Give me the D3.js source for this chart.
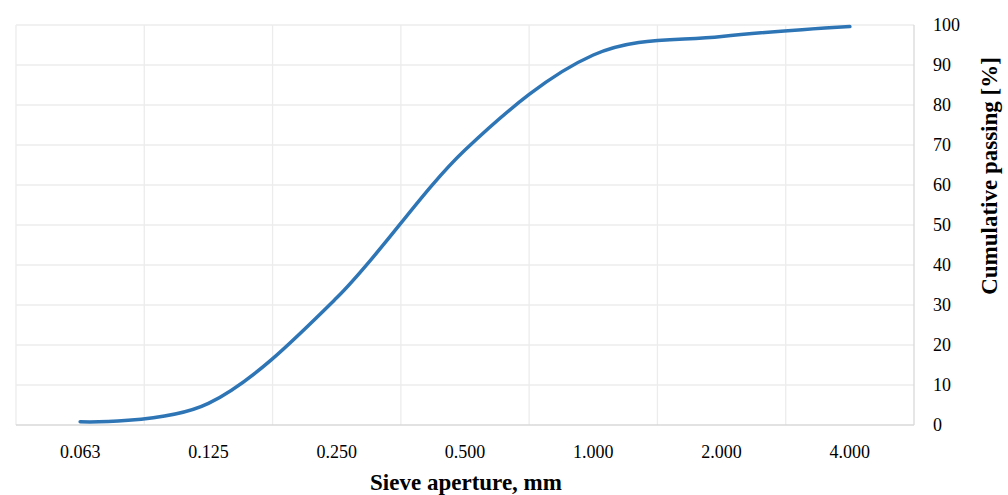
<!DOCTYPE html>
<html>
<head>
<meta charset="utf-8">
<script src="https://cdn.jsdelivr.net/npm/d3@7"></script>
<style>
  html, body { margin: 0; padding: 0; background: #fff; }
  svg { display: block; }
  text { font-family: "Liberation Serif", "DejaVu Serif", serif; fill: #000; }
</style>
</head>
<body>
<svg id="chart" width="1008" height="495"></svg>
<script>
const categories = ["0.063", "0.125", "0.250", "0.500", "1.000", "2.000", "4.000"];
const passing = [0.8, 5.4, 31.8, 68.75, 92.5, 97.1, 99.6];
const yTicks = [0, 10, 20, 30, 40, 50, 60, 70, 80, 90, 100];

(function () {
const svg = d3.select("#chart");
const pLeft = 16, pRight = 914, pTop = 25, pBottom = 425;

const x = d3.scaleBand().domain(categories).range([pLeft, pRight]).padding(0);
const y = d3.scaleLinear().domain([0, 100]).range([pBottom, pTop]);

// horizontal gridlines
svg.append("g").selectAll("line").data(yTicks.filter(d => d > 0)).join("line")
  .attr("x1", pLeft).attr("x2", pRight)
  .attr("y1", d => y(d)).attr("y2", d => y(d))
  .attr("stroke", "#ececec").attr("stroke-width", 1.3);

// vertical gridlines at category boundaries
const bounds = categories.map(c => x(c));
svg.append("g").selectAll("line").data(bounds).join("line")
  .attr("x1", d => d).attr("x2", d => d)
  .attr("y1", pTop).attr("y2", pBottom)
  .attr("stroke", "#ececec").attr("stroke-width", 1.3);

// right axis line
svg.append("line").attr("x1", pRight).attr("x2", pRight).attr("y1", pTop).attr("y2", pBottom)
  .attr("stroke", "#d9d9d9").attr("stroke-width", 1.3);
// bottom axis line
svg.append("line").attr("x1", pLeft).attr("x2", pRight).attr("y1", pBottom).attr("y2", pBottom)
  .attr("stroke", "#d9d9d9").attr("stroke-width", 1.3);

// x tick labels
svg.append("g").selectAll("text").data(categories).join("text")
  .attr("x", d => x(d) + x.bandwidth() / 2)
  .attr("y", 458)
  .attr("text-anchor", "middle")
  .attr("font-size", 18)
  .text(d => d);

// y tick labels
svg.append("g").selectAll("text").data(yTicks).join("text")
  .attr("x", 933)
  .attr("y", d => y(d) + 6)
  .attr("text-anchor", "start")
  .attr("font-size", 18)
  .text(d => d);

// axis titles
svg.append("text")
  .attr("x", 466).attr("y", 490)
  .attr("text-anchor", "middle")
  .attr("font-size", 23).attr("font-weight", "bold")
  .text("Sieve aperture, mm");

svg.append("text")
  .attr("transform", "translate(997,176) rotate(-90)")
  .attr("text-anchor", "middle")
  .attr("font-size", 23).attr("font-weight", "bold")
  .text("Cumulative passing [%]");

// line
const line = d3.line()
  .x((d, i) => x(categories[i]) + x.bandwidth() / 2)
  .y(d => y(d))
  .curve(d3.curveCardinal.tension(0));

svg.append("path").datum(passing)
  .attr("d", line)
  .attr("fill", "none")
  .attr("stroke", "#2E75B6")
  .attr("stroke-width", 3.5)
  .attr("stroke-linecap", "round");
})();
</script>
</body>
</html>
